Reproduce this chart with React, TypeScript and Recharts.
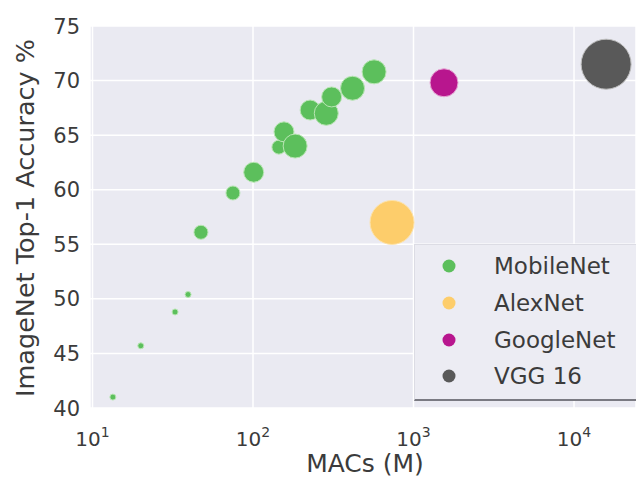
import React from "react";
import { ScatterChart, Scatter, XAxis, YAxis, ZAxis, CartesianGrid } from "recharts";

// Data
const mobileNetMacs = [13.4, 20, 32.7, 39.4, 47.4, 75, 101, 145, 156, 183, 227, 286, 309, 417, 568];
const mobileNetAcc = [41.0, 45.7, 48.8, 50.4, 56.1, 59.7, 61.6, 63.9, 65.3, 64.0, 67.3, 67.0, 68.5, 69.3, 70.8];
const mobileNetSize = [28, 28, 28, 28, 154, 154, 314, 154, 314, 452, 314, 452, 314, 452, 452];

const alexNetMacs = [735];
const alexNetAcc = [57.0];
const alexNetSize = [1520];

const googleNetMacs = [1549];
const googleNetAcc = [69.8];
const googleNetSize = [616];

const vggMacs = [15850];
const vggAcc = [71.5];
const vggSize = [1963];

const xTicks = [10, 100, 1000, 10000];
const yTicks = [40, 45, 50, 55, 60, 65, 70, 75];

const xLabel = "MACs (M)";
const yLabel = "ImageNet Top-1 Accuracy %";

const seriesNames = ["MobileNet", "AlexNet", "GoogleNet", "VGG 16"];
const seriesColors = ["#5cbf5c", "#fdcd6b", "#b8168e", "#595959"];

const build = (xs: number[], ys: number[], ss: number[]) =>
  xs.map((x, i) => ({ macs: x, acc: ys[i], s: ss[i] }));

const mobileNetData = build(mobileNetMacs, mobileNetAcc, mobileNetSize);
const alexNetData = build(alexNetMacs, alexNetAcc, alexNetSize);
const googleNetData = build(googleNetMacs, googleNetAcc, googleNetSize);
const vggData = build(vggMacs, vggAcc, vggSize);

const FONT = "'DejaVu Sans', sans-serif";
const TEXT = "#3b3b3b";

const XTick = (props: any) => {
  const { x, y, payload } = props;
  const exp = Math.round(Math.log10(payload.value));
  return (
    <text x={x} y={y + 30} textAnchor="middle" fontFamily={FONT} fontSize={20} fill={TEXT}>
      <tspan>10</tspan>
      <tspan dy={-9} fontSize={14}>{exp}</tspan>
    </text>
  );
};

const YTick = (props: any) => {
  const { x, y, payload } = props;
  return (
    <text x={x - 2} y={y + 7.5} textAnchor="end" fontFamily={FONT} fontSize={21} fill={TEXT}>
      {payload.value}
    </text>
  );
};

const LegendBox = () => (
  <div
    style={{
      position: "absolute",
      left: 414,
      top: 244,
      width: 222,
      height: 157,
      background: "#ececf3",
      borderLeft: "1px solid #dcdce4",
      borderTop: "1px solid #dcdce4",
      borderBottom: "2px solid #7a7a82",
      boxSizing: "border-box",
      fontFamily: FONT,
      fontSize: 23,
      color: TEXT,
      paddingTop: 3,
    }}
  >
    {seriesNames.map((n, i) => (
      <div key={n} style={{ height: 36.7, display: "flex", alignItems: "center" }}>
        <svg width={79} height={20}>
          <circle cx={34} cy={10} r={6.5} fill={seriesColors[i]} />
        </svg>
        <span>{n}</span>
      </div>
    ))}
  </div>
);

const AxisLabels = () => (
  <svg width={636} height={479} style={{ position: "absolute", left: 0, top: 0, pointerEvents: "none" }}>
    <text x={365} y={472} textAnchor="middle" fontFamily={FONT} fontSize={25} fill={TEXT}>
      {xLabel}
    </text>
    <text
      x={0}
      y={0}
      transform="translate(34,218) rotate(-90)"
      textAnchor="middle"
      fontFamily={FONT}
      fontSize={25.5}
      fill={TEXT}
    >
      {yLabel}
    </text>
  </svg>
);

export default function App() {
  return (
    <div style={{ position: "absolute", left: 0, top: 0, width: 636, height: 479, background: "#fff" }}>
      <ScatterChart width={636} height={479} margin={{ top: 26, right: 0, bottom: 0, left: 0 }}>
        <CartesianGrid fill="#eaeaf2" stroke="#ffffff" strokeWidth={1.5} />
        <XAxis
          dataKey="macs"
          type="number"
          scale="log"
          domain={[9.65, 24330]}
          allowDataOverflow
          ticks={xTicks}
          tick={<XTick />}
          axisLine={false}
          tickLine={false}
          height={71}
        />
        <YAxis
          dataKey="acc"
          type="number"
          domain={[40, 75]}
          ticks={yTicks}
          tick={<YTick />}
          axisLine={false}
          tickLine={false}
          width={90}
        />
        <ZAxis dataKey="s" type="number" domain={[0, 2000]} range={[0, 2000]} />
        <Scatter name="MobileNet" data={mobileNetData} fill={seriesColors[0]} stroke="#b9e6b4" strokeWidth={1} isAnimationActive={false} />
        <Scatter name="AlexNet" data={alexNetData} fill={seriesColors[1]} stroke="#fde2a8" strokeWidth={1} isAnimationActive={false} />
        <Scatter name="GoogleNet" data={googleNetData} fill={seriesColors[2]} stroke="#e7a9d6" strokeWidth={1} isAnimationActive={false} />
        <Scatter name="VGG 16" data={vggData} fill={seriesColors[3]} stroke="#bdbdbd" strokeWidth={1} isAnimationActive={false} />
      </ScatterChart>
      <LegendBox />
      <AxisLabels />
    </div>
  );
}
